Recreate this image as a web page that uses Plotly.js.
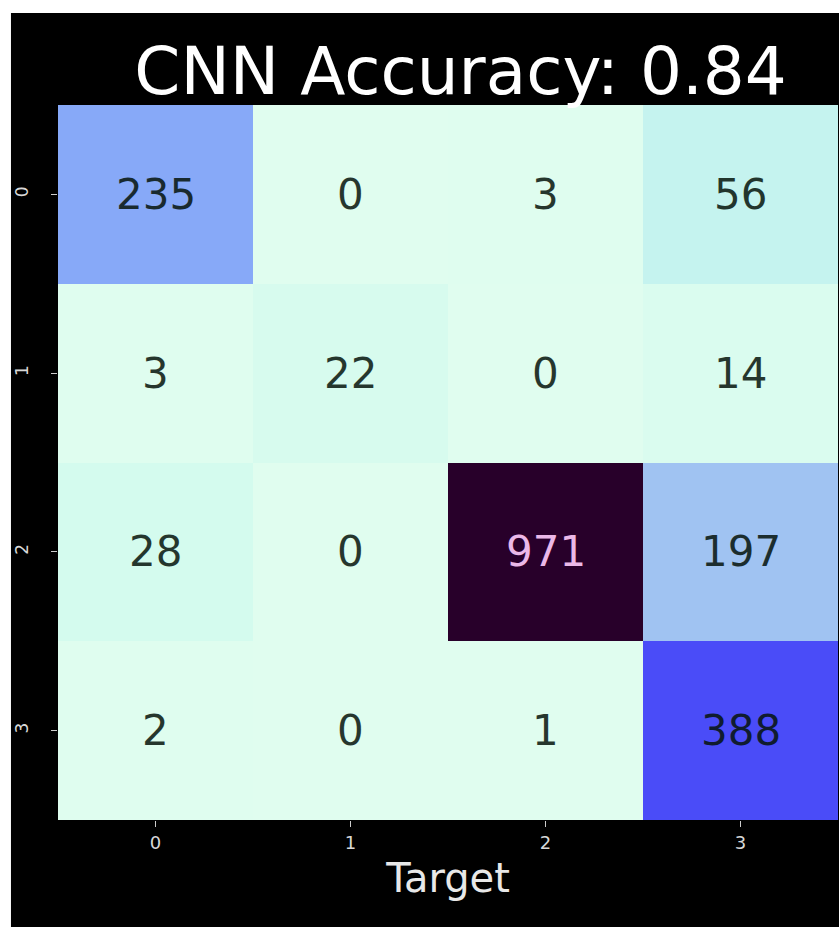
<!DOCTYPE html>
<html>
<head>
<meta charset="utf-8">
<script src="https://cdn.plot.ly/plotly-3.0.1.min.js"></script>
<style>html,body{margin:0;padding:0;background:#000;overflow:hidden;width:839px;height:927px;}#chart{width:839px;height:927px;}</style>
</head>
<body>
<div id="chart"></div>
<script>
// Data
var predLabels = [0, 1, 2, 3];
var targetLabels = [0, 1, 2, 3];
var row0 = [235, 0, 3, 56];
var row1 = [3, 22, 0, 14];
var row2 = [28, 0, 971, 197];
var row3 = [2, 0, 1, 388];
var titleText = "CNN Accuracy: 0.84";
var xTitle = "Target";

var z = [row0, row1, row2, row3];
var zmax = Math.max.apply(null, [].concat.apply([], z));

var colorscale = [
  [0.0, "#e0fdef"],
  [0.03, "#d4fbee"],
  [0.06, "#c4f2ef"],
  [0.2, "#a2c5f2"],
  [0.24, "#88aaf8"],
  [0.4, "#4a4cf8"],
  [0.7, "#5a1aa8"],
  [1.0, "#28002a"]
];

var annotations = [];
for (var i = 0; i < z.length; i++) {
  for (var j = 0; j < z[i].length; j++) {
    var v = z[i][j];
    var light = v / zmax > 0.7;
    annotations.push({
      x: targetLabels[j], y: predLabels[i], xref: "x", yref: "y",
      text: String(v), showarrow: false,
      font: {family: "DejaVu Sans", size: 42, color: light ? "#ebb8e8" : "#06140c"},
      opacity: light ? 1 : 0.85
    });
  }
}

var trace = {
  type: "heatmap",
  x: targetLabels,
  y: predLabels,
  z: z,
  zmin: 0,
  zmax: zmax,
  colorscale: colorscale,
  showscale: false,
  hoverinfo: "skip"
};

var layout = {
  width: 839,
  height: 927,
  margin: {l: 58, r: 1, t: 105, b: 107, pad: 0},
  paper_bgcolor: "#000000",
  plot_bgcolor: "#000000",
  title: {
    text: titleText,
    font: {family: "DejaVu Sans", size: 66, color: "#ffffff"},
    xref: "container", yref: "container",
    x: 0.549, xanchor: "center",
    y: 0.923, yanchor: "middle"
  },
  xaxis: {
    range: [-0.5, 3.5],
    tickvals: targetLabels,
    ticktext: targetLabels.map(String),
    ticks: "outside", ticklen: 6, tickwidth: 1, tickcolor: "#cccccc",
    tickfont: {family: "DejaVu Sans", size: 18, color: "#d8d8d8"},
    showgrid: false, zeroline: false, showline: false,
    title: {text: xTitle, font: {family: "DejaVu Sans", size: 40, color: "#e8e8e8"}, standoff: 12},
    automargin: false
  },
  yaxis: {
    range: [3.5, -0.5],
    tickvals: predLabels,
    ticktext: predLabels.map(String),
    tickangle: -90,
    ticks: "outside", ticklen: 6, tickwidth: 1, tickcolor: "#cccccc",
    tickfont: {family: "DejaVu Sans", size: 17, color: "#d8d8d8"},
    ticklabelstandoff: 16,
    showgrid: false, zeroline: false, showline: false,
    automargin: false
  },
  shapes: [
    {type: "rect", xref: "paper", yref: "paper", layer: "above",
     x0: -0.08, x1: -0.0603, y0: -0.2, y1: 1.2,
     fillcolor: "#ffffff", line: {width: 0}},
    {type: "rect", xref: "paper", yref: "paper", layer: "above",
     x0: -0.08, x1: 1.1, y0: 1.1287, y1: 1.2,
     fillcolor: "#ffffff", line: {width: 0}}
  ],
  annotations: annotations
};

Plotly.newPlot("chart", [trace], layout, {displayModeBar: false, staticPlot: true});
</script>
</body>
</html>
